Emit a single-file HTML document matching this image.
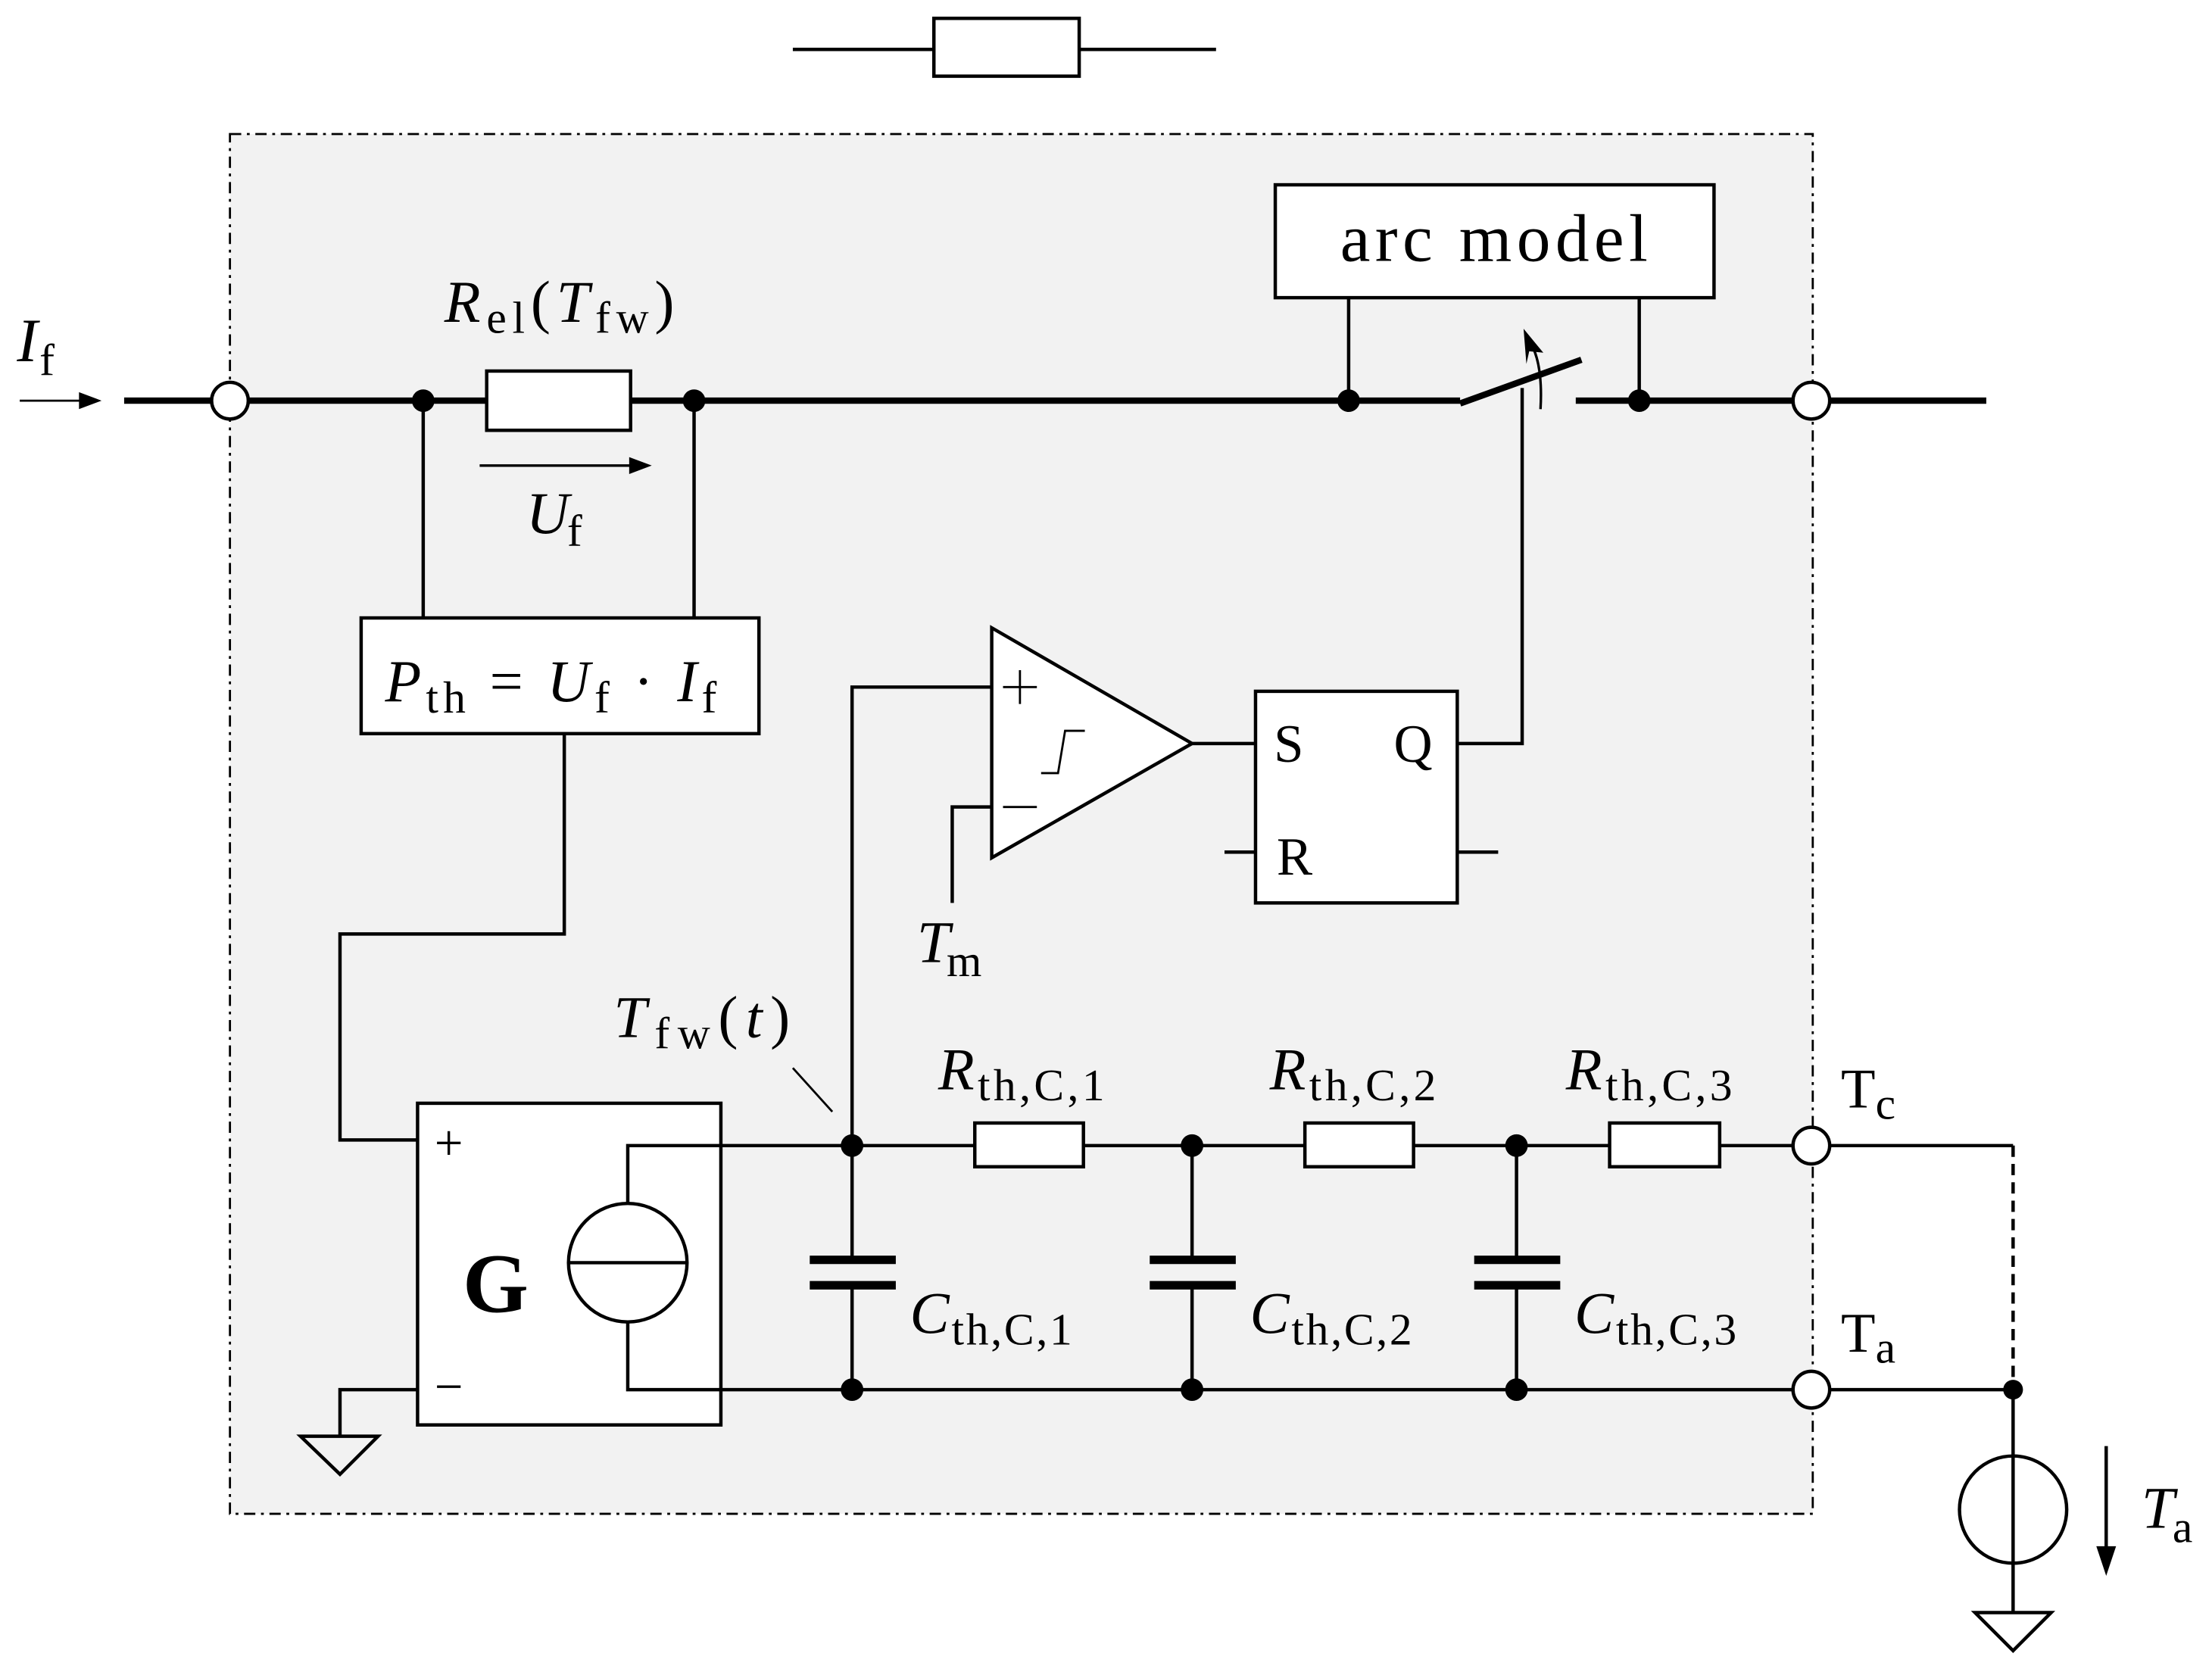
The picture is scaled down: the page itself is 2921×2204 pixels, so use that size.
<!DOCTYPE html>
<html><head><meta charset="utf-8"><style>
html,body{margin:0;padding:0;background:#fff;}
svg{display:block;}
text{font-family:"Liberation Serif",serif;fill:#000;}
.i{font-style:italic;}
</style></head><body>
<svg width="2921" height="2204" viewBox="0 0 1568 1183" preserveAspectRatio="none" xmlns="http://www.w3.org/2000/svg">
<g stroke="#000" fill="none" stroke-width="2.4">
<line x1="562" y1="35" x2="862" y2="35"/>
<rect x="662" y="13" width="103" height="41" fill="#fff"/>
<rect x="163" y="95" width="1122" height="978" fill="#f2f2f2" stroke-width="1.5" stroke-dasharray="8,4,2,4"/>
<g stroke-width="4.5">
<line x1="88" y1="284" x2="1035" y2="284"/>
<line x1="1035" y1="286" x2="1121" y2="255"/>
<line x1="1117" y1="284" x2="1408" y2="284"/>
</g>
<rect x="345" y="263" width="102" height="42" fill="#fff"/>
<line x1="300" y1="284" x2="300" y2="438"/>
<line x1="492" y1="284" x2="492" y2="438"/>
<rect x="256" y="438" width="282" height="82" fill="#fff"/>
<polyline points="400,520 400,662 241,662 241,808 296,808"/>
<rect x="296" y="782" width="215" height="228" fill="#fff"/>
<circle cx="445" cy="895" r="42" fill="#fff"/>
<line x1="403" y1="895" x2="487" y2="895"/>
<polyline points="445,853 445,812 1284,812"/>
<polyline points="445,937 445,985 1284,985"/>
<polyline points="296,985 241,985 241,1018"/>
<polygon points="213,1018 268,1018 241,1045"/>
<polyline points="604,812 604,487 703,487"/>
<polygon points="703,445 703,608 845,527" fill="#fff"/>
<polyline points="675,640 675,572 703,572"/>
<line x1="711" y1="487" x2="735" y2="487" stroke-width="1.5"/>
<line x1="723" y1="475" x2="723" y2="499" stroke-width="1.5"/>
<line x1="711" y1="572" x2="735" y2="572" stroke-width="1.5"/>
<polyline points="738,548 750,548 755,518 769,518" stroke-width="1.5"/>
<line x1="845" y1="527" x2="890" y2="527"/>
<rect x="890" y="490" width="143" height="150" fill="#fff"/>
<line x1="868" y1="604" x2="890" y2="604"/>
<line x1="1033" y1="604" x2="1062" y2="604"/>
<polyline points="1033,527 1079,527 1079,275"/>
<path d="M1092,290 Q1094,255 1083,240" stroke-width="1.8"/>
<polygon points="1080,233 1094,250 1084,249 1082,258" fill="#000" stroke="none"/>
<rect x="904" y="131" width="311" height="80" fill="#fff"/>
<line x1="956" y1="211" x2="956" y2="284"/>
<line x1="1162" y1="211" x2="1162" y2="284"/>
<rect x="691" y="796" width="77" height="31" fill="#fff"/>
<rect x="925" y="796" width="77" height="31" fill="#fff"/>
<rect x="1141" y="796" width="78" height="31" fill="#fff"/>
<g>
<line x1="604" y1="812" x2="604" y2="893"/><line x1="604" y1="911" x2="604" y2="985"/>
<line x1="845" y1="812" x2="845" y2="893"/><line x1="845" y1="911" x2="845" y2="985"/>
<line x1="1075" y1="812" x2="1075" y2="893"/><line x1="1075" y1="911" x2="1075" y2="985"/>
</g>
<g stroke-width="6">
<line x1="574" y1="893" x2="635" y2="893"/><line x1="574" y1="911" x2="635" y2="911"/>
<line x1="815" y1="893" x2="876" y2="893"/><line x1="815" y1="911" x2="876" y2="911"/>
<line x1="1045" y1="893" x2="1106" y2="893"/><line x1="1045" y1="911" x2="1106" y2="911"/>
</g>
<line x1="562" y1="757" x2="590" y2="788" stroke-width="1.5"/>
<polyline points="1284,812 1427,812"/>
<line x1="1427" y1="812" x2="1427" y2="985" stroke-dasharray="8,5"/>
<line x1="1284" y1="985" x2="1427" y2="985"/>
<line x1="1427" y1="985" x2="1427" y2="1143"/>
<circle cx="1427" cy="1070" r="38" fill="#fff"/>
<line x1="1427" y1="1032" x2="1427" y2="1108"/>
<polygon points="1400,1143 1454,1143 1427,1170"/>
<line x1="1493" y1="1025" x2="1493" y2="1100"/>
<line x1="14" y1="284" x2="58" y2="284" stroke-width="1.5"/>
<line x1="340" y1="330" x2="448" y2="330" stroke-width="1.8"/>
<circle cx="163" cy="284" r="13" fill="#fff"/>
<circle cx="1284" cy="284" r="13" fill="#fff"/>
<circle cx="1284" cy="812" r="13" fill="#fff"/>
<circle cx="1284" cy="985" r="13" fill="#fff"/>
</g>
<g fill="#000">
<polygon points="72,284 56,278 56,290"/>
<polygon points="462,330 446,324 446,336"/>
<polygon points="1493,1117 1486,1096 1500,1096"/>
<circle cx="300" cy="284" r="8"/><circle cx="492" cy="284" r="8"/>
<circle cx="956" cy="284" r="8"/><circle cx="1162" cy="284" r="8"/>
<circle cx="604" cy="812" r="8"/><circle cx="845" cy="812" r="8"/><circle cx="1075" cy="812" r="8"/>
<circle cx="604" cy="985" r="8"/><circle cx="845" cy="985" r="8"/><circle cx="1075" cy="985" r="8"/>
<circle cx="1427" cy="985" r="7"/>
</g>
<text x="12" y="256" font-size="44" class="i">I</text><text x="28" y="266" font-size="32">f</text>
<text x="315" y="228" font-size="42" textLength="163" lengthAdjust="spacing"><tspan class="i">R</tspan><tspan font-size="32" dy="8">el</tspan><tspan dy="-8">(</tspan><tspan class="i">T</tspan><tspan font-size="32" dy="8">fw</tspan><tspan dy="-8">)</tspan></text>
<text x="373" y="378" font-size="42" class="i">U</text><text x="402" y="387" font-size="32">f</text>
<text x="273" y="497" font-size="42" textLength="235" lengthAdjust="spacing"><tspan class="i">P</tspan><tspan font-size="32" dy="8">th</tspan><tspan dy="-8"> = </tspan><tspan class="i">U</tspan><tspan font-size="32" dy="8">f</tspan><tspan dy="-8"> · </tspan><tspan class="i">I</tspan><tspan font-size="32" dy="8">f</tspan></text>
<text x="950" y="185" font-size="48" textLength="218" lengthAdjust="spacing">arc model</text>
<text x="903" y="540" font-size="38">S</text>
<text x="988" y="540" font-size="38">Q</text>
<text x="905" y="620" font-size="38">R</text>
<text x="650" y="682" font-size="42" class="i">T</text><text x="671" y="692" font-size="32">m</text>
<text x="435" y="735" font-size="42" textLength="125" lengthAdjust="spacing"><tspan class="i">T</tspan><tspan font-size="32" dy="8">fw</tspan><tspan dy="-8">(</tspan><tspan class="i">t</tspan><tspan>)</tspan></text>
<text x="665" y="772" font-size="42" textLength="118" lengthAdjust="spacing"><tspan class="i">R</tspan><tspan font-size="32" dy="8">th,C,1</tspan></text>
<text x="900" y="772" font-size="42" textLength="118" lengthAdjust="spacing"><tspan class="i">R</tspan><tspan font-size="32" dy="8">th,C,2</tspan></text>
<text x="1110" y="772" font-size="42" textLength="118" lengthAdjust="spacing"><tspan class="i">R</tspan><tspan font-size="32" dy="8">th,C,3</tspan></text>
<text x="645" y="945" font-size="42" textLength="115" lengthAdjust="spacing"><tspan class="i">C</tspan><tspan font-size="32" dy="8">th,C,1</tspan></text>
<text x="886" y="945" font-size="42" textLength="115" lengthAdjust="spacing"><tspan class="i">C</tspan><tspan font-size="32" dy="8">th,C,2</tspan></text>
<text x="1116" y="945" font-size="42" textLength="115" lengthAdjust="spacing"><tspan class="i">C</tspan><tspan font-size="32" dy="8">th,C,3</tspan></text>
<text x="1305" y="785" font-size="40">T<tspan font-size="32" dy="8">c</tspan></text>
<text x="1305" y="958" font-size="40">T<tspan font-size="32" dy="8">a</tspan></text>
<text x="1518" y="1083" font-size="42" class="i">T</text><text x="1540" y="1093" font-size="32">a</text>
<text x="328" y="930" font-size="60" font-weight="bold">G</text>
<text x="308" y="822" font-size="36">+</text>
<text x="308" y="995" font-size="36">−</text>
</svg>
</body></html>
